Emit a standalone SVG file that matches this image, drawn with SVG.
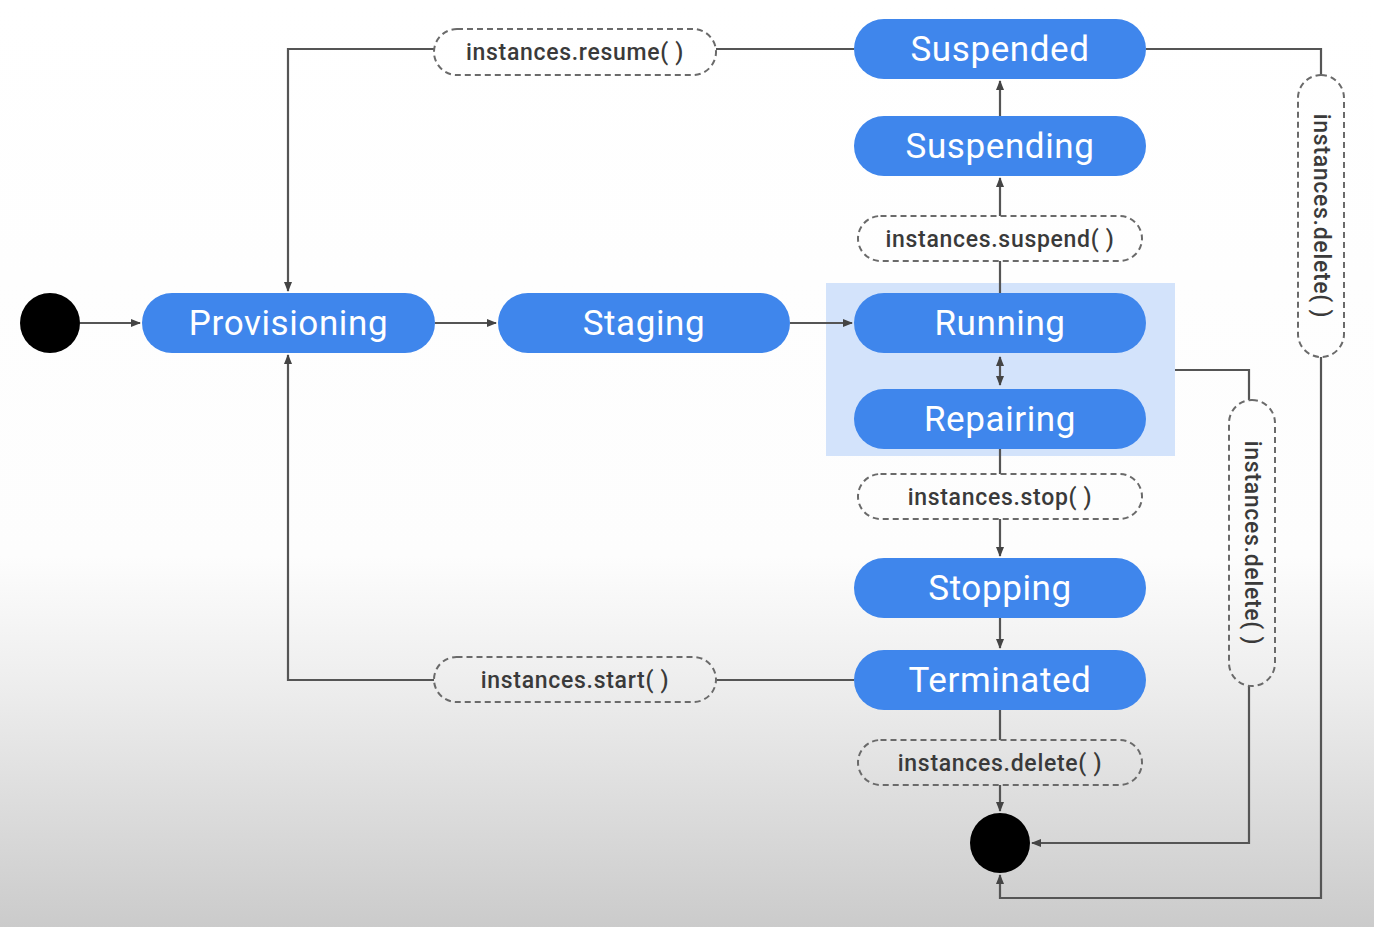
<svg xmlns="http://www.w3.org/2000/svg" width="1374" height="927" viewBox="0 0 1374 927">
<defs>
<linearGradient id="bg" x1="0" y1="0" x2="0" y2="1">
<stop offset="0" stop-color="#ffffff"/>
<stop offset="0.6" stop-color="#fdfdfd"/>
<stop offset="0.75" stop-color="#ececec"/>
<stop offset="1" stop-color="#cbcbcb"/>
</linearGradient>
<marker id="ar" viewBox="0 0 10 10" refX="9" refY="5" markerWidth="10" markerHeight="10" markerUnits="userSpaceOnUse" orient="auto">
<path d="M0,1 L10,5 L0,9 z" fill="#444"/>
</marker>
<marker id="ars" viewBox="0 0 10 10" refX="1" refY="5" markerWidth="10" markerHeight="10" markerUnits="userSpaceOnUse" orient="auto">
<path d="M10,1 L0,5 L10,9 z" fill="#444"/>
</marker>
</defs>
<style>
.node rect{fill:#3f86ec;}
.node text{fill:#ffffff;font-family:Roboto,"Noto Sans",sans-serif;font-size:35px;letter-spacing:0.6px;text-anchor:middle;dominant-baseline:central;}
.lbl rect{fill:none;stroke:#6a6a6a;stroke-width:2;stroke-dasharray:6 4;}
.lbl text{fill:#3a3a3a;font-family:Roboto,"Noto Sans",sans-serif;font-size:23px;font-weight:500;letter-spacing:0.7px;text-anchor:middle;dominant-baseline:central;}
.conn path{fill:none;stroke:#555;stroke-width:2.2;}
.dot{fill:#000;}
</style>
<rect x="0" y="0" width="1374" height="927" fill="url(#bg)"/>
<rect id="running-group" x="826" y="283" width="349" height="173" fill="#d3e3fb"/>

<g id="connectors" class="conn">
<path d="M80,323 L140,323" marker-end="url(#ar)"/>
<path d="M435,323 L496,323" marker-end="url(#ar)"/>
<path d="M790,323 L852,323" marker-end="url(#ar)"/>
<path d="M1000,357 L1000,385" marker-start="url(#ars)" marker-end="url(#ar)"/>
<path d="M1000,293 L1000,261"/>
<path d="M1000,216 L1000,178" marker-end="url(#ar)"/>
<path d="M1000,116 L1000,81" marker-end="url(#ar)"/>
<path d="M854,49 L716,49"/>
<path d="M434,49 L288,49 L288,291" marker-end="url(#ar)"/>
<path d="M1000,449 L1000,474"/>
<path d="M1000,519 L1000,556" marker-end="url(#ar)"/>
<path d="M1000,618 L1000,648" marker-end="url(#ar)"/>
<path d="M854,680 L716,680"/>
<path d="M434,680 L288,680 L288,355" marker-end="url(#ar)"/>
<path d="M1000,710 L1000,740"/>
<path d="M1000,785 L1000,811" marker-end="url(#ar)"/>
<path d="M1146,49 L1321,49 L1321,75"/>
<path d="M1321,357 L1321,898 L1000,898 L1000,875" marker-end="url(#ar)"/>
<path d="M1175,370 L1249,370 L1249,400"/>
<path d="M1249,686 L1249,843 L1032,843" marker-end="url(#ar)"/>
</g>

<circle id="start" class="dot" cx="50" cy="323" r="30"/>
<circle id="end" class="dot" cx="1000" cy="843" r="30"/>

<g id="provisioning" class="node"><rect x="142" y="293" width="293" height="60" rx="30"/><text x="288.5" y="323">Provisioning</text></g>
<g id="staging" class="node"><rect x="498" y="293" width="292" height="60" rx="30"/><text x="644" y="323">Staging</text></g>
<g id="running" class="node"><rect x="854" y="293" width="292" height="60" rx="30"/><text x="1000" y="323">Running</text></g>
<g id="repairing" class="node"><rect x="854" y="389" width="292" height="60" rx="30"/><text x="1000" y="419">Repairing</text></g>
<g id="suspended" class="node"><rect x="854" y="19" width="292" height="60" rx="30"/><text x="1000" y="49">Suspended</text></g>
<g id="suspending" class="node"><rect x="854" y="116" width="292" height="60" rx="30"/><text x="1000" y="146">Suspending</text></g>
<g id="stopping" class="node"><rect x="854" y="558" width="292" height="60" rx="30"/><text x="1000" y="588">Stopping</text></g>
<g id="terminated" class="node"><rect x="854" y="650" width="292" height="60" rx="30"/><text x="1000" y="680">Terminated</text></g>

<g id="lbl-resume" class="lbl"><rect x="434" y="29" width="282" height="46" rx="23"/><text x="575" y="52">instances.resume( )</text></g>
<g id="lbl-suspend" class="lbl"><rect x="858" y="216" width="284" height="45" rx="22.5"/><text x="1000" y="239">instances.suspend( )</text></g>
<g id="lbl-stop" class="lbl"><rect x="858" y="474" width="284" height="45" rx="22.5"/><text x="1000" y="497">instances.stop( )</text></g>
<g id="lbl-start" class="lbl"><rect x="434" y="657" width="282" height="45" rx="22.5"/><text x="575" y="680">instances.start( )</text></g>
<g id="lbl-delete-bottom" class="lbl"><rect x="858" y="740" width="284" height="45" rx="22.5"/><text x="1000" y="763">instances.delete( )</text></g>
<g id="lbl-delete-right" class="lbl"><rect x="1298" y="75" width="46" height="282" rx="23"/><text x="1321" y="216" transform="rotate(90 1321 216)">instances.delete( )</text></g>
<g id="lbl-delete-mid" class="lbl"><rect x="1229" y="400" width="46" height="286" rx="23"/><text x="1252" y="543" transform="rotate(90 1252 543)">instances.delete( )</text></g>
</svg>
